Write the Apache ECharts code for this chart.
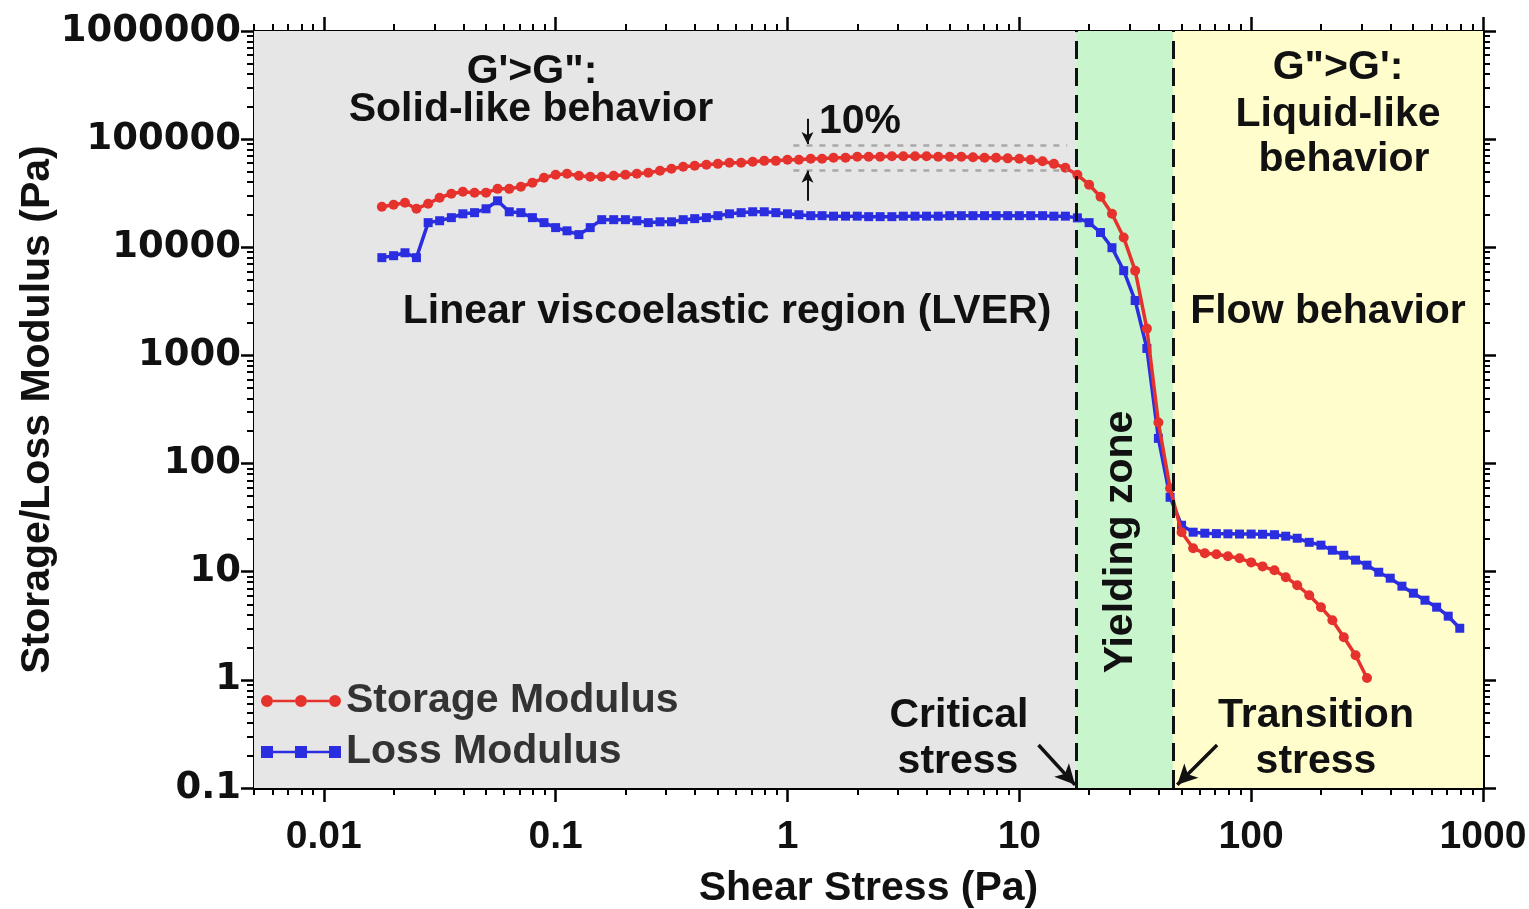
<!DOCTYPE html>
<html>
<head>
<meta charset="utf-8">
<script src="https://cdn.jsdelivr.net/npm/echarts@6/dist/echarts.min.js"></script>
<style>
  html, body { margin: 0; padding: 0; background: #fff; }
  #chart { width: 1529px; height: 909px; }
</style>
</head>
<body>
<div id="chart"></div>
<script>
// Shear stress steps of the amplitude sweep (Pa)
const STRESS = [
  0.0178, 0.0200, 0.0224, 0.0251, 0.0282, 0.0316, 0.0355, 0.0398, 0.0447, 0.0501,
  0.0562, 0.0631, 0.0708, 0.0794, 0.0891, 0.100, 0.112, 0.126, 0.141, 0.158,
  0.178, 0.200, 0.224, 0.251, 0.282, 0.316, 0.355, 0.398, 0.447, 0.501,
  0.562, 0.631, 0.708, 0.794, 0.891, 1.00, 1.12, 1.26, 1.41, 1.58,
  1.78, 2.00, 2.24, 2.51, 2.82, 3.16, 3.55, 3.98, 4.47, 5.01,
  5.62, 6.31, 7.08, 7.94, 8.91, 10.0, 11.2, 12.6, 14.1, 15.8,
  17.8, 20.0, 22.4, 25.1, 28.2, 31.6, 35.5, 39.8, 44.7, 50.1,
  56.2, 63.1, 70.8, 79.4, 89.1, 100, 112, 126, 141, 158,
  178, 200, 224, 251, 282, 316, 355, 398, 447, 501,
  562, 631, 708, 794
];

// Storage modulus G' (Pa)
const STORAGE = [
  23700, 24700, 25800, 22700, 25300, 28700, 31300, 32600, 31900, 32000,
  34700, 34700, 36300, 39500, 43900, 46800, 47800, 45800, 44900, 44900,
  45800, 46800, 47800, 48900, 51000, 53200, 55500, 56700, 57900, 59100,
  60400, 60400, 61700, 63000, 63000, 64400, 64400, 65800, 65800, 67200,
  67200, 68700, 68700, 68700, 69400, 69400, 69400, 69400, 68700, 68700,
  68700, 68000, 67200, 67200, 66400, 65800, 64400, 62400, 59100, 54300,
  46800, 37900, 29300, 20400, 12300, 6080, 1770, 240, 59, 23.2,
  16.5, 14.8, 14.5, 13.9, 13.3, 12.2, 11.2, 10.3, 8.9, 7.5,
  6.06, 4.70, 3.56, 2.48, 1.69, 1.04
];

// Loss modulus G'' (Pa)
const LOSS = [
  8020, 8360, 8900, 8020, 16900, 17600, 18800, 20400, 20900, 22700,
  26900, 21300, 20900, 18800, 16900, 15200, 14200, 13100, 15200, 18000,
  18000, 18000, 17600, 16900, 17200, 17200, 18000, 18400, 18800, 19600,
  20400, 20900, 21300, 21300, 20900, 20400, 20000, 19600, 19600, 19400,
  19400, 19400, 19200, 19200, 19200, 19400, 19400, 19400, 19400, 19600,
  19600, 19600, 19600, 19600, 19600, 19600, 19600, 19600, 19400, 19400,
  18700, 16900, 13700, 9910, 6080, 3220, 1160, 171, 48.8, 26.9,
  23.2, 22.7, 22.5, 22.4, 22.3, 22.3, 22.2, 22.0, 21.3, 20.4,
  18.7, 17.6, 15.8, 14.2, 12.8, 11.5, 9.89, 8.71, 7.35, 6.33,
  5.45, 4.70, 3.88, 3.0
];

// Region boundaries on the stress axis (Pa)
const CRITICAL_STRESS = 17.6;
const TRANSITION_STRESS = 46;

// 10 % band drawn around the G' plateau
const BAND_X = [1.06, 16.1];
const BAND_Y = [88000, 52000];

// Axis ranges and ticks
const X_RANGE = [0.005, 1000];
const Y_RANGE = [0.1, 1000000];
const X_MAJOR = [0.01, 0.1, 1, 10, 100, 1000];
const X_MAJOR_LABELS = ['0.01', '0.1', '1', '10', '100', '1000'];
const X_MINOR = [
  0.005, 0.006, 0.007, 0.008, 0.009,
  0.02, 0.03, 0.04, 0.05, 0.06, 0.07, 0.08, 0.09,
  0.2, 0.3, 0.4, 0.5, 0.6, 0.7, 0.8, 0.9,
  2, 3, 4, 5, 6, 7, 8, 9,
  20, 30, 40, 50, 60, 70, 80, 90,
  200, 300, 400, 500, 600, 700, 800, 900
];
const Y_MAJOR = [0.1, 1, 10, 100, 1000, 10000, 100000, 1000000];
const Y_MAJOR_LABELS = ['0.1', '1', '10', '100', '1000', '10000', '100000', '1000000'];
const Y_MINOR = [
  0.2, 0.3, 0.4, 0.5, 0.6, 0.7, 0.8, 0.9,
  2, 3, 4, 5, 6, 7, 8, 9,
  20, 30, 40, 50, 60, 70, 80, 90,
  200, 300, 400, 500, 600, 700, 800, 900,
  2000, 3000, 4000, 5000, 6000, 7000, 8000, 9000,
  20000, 30000, 40000, 50000, 60000, 70000, 80000, 90000,
  200000, 300000, 400000, 500000, 600000, 700000, 800000, 900000
];

const RED = '#e6322d';
const BLUE = '#2a2ee0';
const FONT = '"Liberation Sans", Arial, sans-serif';
const WIDE_FONT = '"DejaVu Sans", Verdana, sans-serif';

function labelFor(ticks, labels) {
  return function (v) {
    const i = ticks.findIndex(t => Math.abs(Math.log10(v / t)) < 1e-6);
    return i >= 0 ? labels[i] : '';
  };
}

function xAxisDef(position, minor) {
  return {
    type: 'log', logBase: 10, min: X_RANGE[0], max: X_RANGE[1], position: position,
    gridIndex: 0,
    axisLine: { show: !minor, onZero: false, lineStyle: { color: '#000', width: 3 } },
    axisTick: {
      show: true, inside: false, length: minor ? 7 : 14,
      customValues: minor ? X_MINOR : X_MAJOR,
      lineStyle: { color: '#000', width: minor ? 2 : 2.5 }
    },
    axisLabel: (position === 'bottom' && !minor) ? {
      show: true, customValues: X_MAJOR, formatter: labelFor(X_MAJOR, X_MAJOR_LABELS),
      fontSize: 39, fontWeight: 'bold', fontFamily: FONT, color: '#111', margin: 30
    } : { show: false },
    splitLine: { show: false },
    minorTick: { show: false },
    name: (position === 'bottom' && !minor) ? 'Shear Stress (Pa)' : '',
    nameLocation: 'middle', nameGap: 80, nameMoveOverlap: false,
    nameTextStyle: { fontSize: 41, fontWeight: 'bold', fontFamily: FONT, color: '#111' }
  };
}

function yAxisDef(position, minor) {
  return {
    type: 'log', logBase: 10, min: Y_RANGE[0], max: Y_RANGE[1], position: position,
    gridIndex: 0,
    axisLine: { show: !minor, onZero: false, lineStyle: { color: '#000', width: 3 } },
    axisTick: {
      show: true, inside: false, length: minor ? 7 : 13,
      customValues: minor ? Y_MINOR : Y_MAJOR,
      lineStyle: { color: '#000', width: minor ? 2 : 2.5 }
    },
    axisLabel: (position === 'left' && !minor) ? {
      show: true, customValues: Y_MAJOR, formatter: labelFor(Y_MAJOR, Y_MAJOR_LABELS),
      fontSize: 37, fontWeight: 'bold', fontFamily: WIDE_FONT, color: '#111', margin: 13
    } : { show: false },
    splitLine: { show: false },
    minorTick: { show: false },
    name: (position === 'left' && !minor) ? 'Storage/Loss Modulus (Pa)' : '',
    nameLocation: 'middle', nameGap: 196, nameRotate: 90, nameMoveOverlap: false,
    nameTextStyle: { fontSize: 41, fontWeight: 'bold', fontFamily: FONT, color: '#111' }
  };
}

const storageData = STORAGE.map((g, i) => [STRESS[i], g]);
const lossData = LOSS.map((g, i) => [STRESS[i], g]);

const CIRCLE_ICON = 'path://M12 4.8h22v2.4h-22z M46 4.8h22v2.4h-22z ' +
  'M0 6a6 6 0 1 0 12 0a6 6 0 1 0 -12 0z M34 6a6 6 0 1 0 12 0a6 6 0 1 0 -12 0z ' +
  'M68 6a6 6 0 1 0 12 0a6 6 0 1 0 -12 0z';
const SQUARE_ICON = 'path://M0 0h12v12h-12z M34 0h12v12h-12z M68 0h12v12h-12z ' +
  'M12 4.8h22v2.4h-22z M46 4.8h22v2.4h-22z';

function txt(text, x, y, extra) {
  return Object.assign({
    type: 'text', x: x, y: y, z: 100,
    style: {
      text: text, fill: '#111', fontSize: 41, fontWeight: 'bold', fontFamily: FONT,
      align: 'center', verticalAlign: 'middle', textAlign: 'center', textVerticalAlign: 'middle'
    }
  }, extra || {});
}

const chart = echarts.init(document.getElementById('chart'), null, { renderer: 'canvas' });

chart.setOption({
  animation: false,
  backgroundColor: '#ffffff',
  grid: { left: 254, right: 46, top: 31, bottom: 121, containLabel: false, outerBoundsMode: 'none' },
  legend: {
    orient: 'vertical', left: 256, top: 674, itemWidth: 80, itemHeight: 12, itemGap: 7,
    selectedMode: false,
    textStyle: { fontSize: 41, fontWeight: 'bold', fontFamily: FONT, color: '#333', lineHeight: 44 },
    data: [
      { name: 'Storage Modulus', icon: CIRCLE_ICON },
      { name: 'Loss Modulus', icon: SQUARE_ICON }
    ]
  },
  xAxis: [xAxisDef('bottom', false), xAxisDef('top', false), xAxisDef('bottom', true), xAxisDef('top', true)],
  yAxis: [yAxisDef('left', false), yAxisDef('right', false), yAxisDef('left', true), yAxisDef('right', true)],
  series: [
    {
      name: 'Storage Modulus', type: 'line', xAxisIndex: 0, yAxisIndex: 0, z: 4,
      data: storageData, symbol: 'circle', symbolSize: 10, showSymbol: true,
      lineStyle: { color: RED, width: 3.5 }, itemStyle: { color: RED },
      emphasis: { disabled: true },
      markArea: {
        silent: true,
        data: [
          [{ xAxis: X_RANGE[0], itemStyle: { color: '#e6e6e6' } }, { xAxis: CRITICAL_STRESS }],
          [{ xAxis: CRITICAL_STRESS, itemStyle: { color: '#c8f5cc' } }, { xAxis: TRANSITION_STRESS }],
          [{ xAxis: TRANSITION_STRESS, itemStyle: { color: '#fffdcc' } }, { xAxis: X_RANGE[1] }]
        ]
      },
      markLine: {
        silent: true, symbol: ['none', 'none'], label: { show: false },
        emphasis: { disabled: true },
        data: [
          { xAxis: CRITICAL_STRESS, lineStyle: { color: '#111', width: 3, type: [18, 9] } },
          { xAxis: TRANSITION_STRESS, lineStyle: { color: '#111', width: 3, type: [18, 9] } },
          [{ coord: [BAND_X[0], BAND_Y[0]], lineStyle: { color: '#a8a8a8', width: 2.5, type: [6, 7] } },
           { coord: [BAND_X[1], BAND_Y[0]] }],
          [{ coord: [BAND_X[0], BAND_Y[1]], lineStyle: { color: '#a8a8a8', width: 2.5, type: [6, 7] } },
           { coord: [BAND_X[1], BAND_Y[1]] }],
          [{ coord: [1.22, 154000], lineStyle: { color: '#111', width: 2, type: 'solid' } },
           { coord: [1.22, 90000], symbol: 'arrow', symbolSize: [9, 12] }],
          [{ coord: [1.22, 26900], lineStyle: { color: '#111', width: 2, type: 'solid' } },
           { coord: [1.22, 51000], symbol: 'arrow', symbolSize: [9, 12] }],
          [{ coord: [12.1, 0.25], lineStyle: { color: '#111', width: 3.5, type: 'solid' } },
           { coord: [17.4, 0.107], symbol: 'arrow', symbolSize: [15, 20] }],
          [{ coord: [71.3, 0.25], lineStyle: { color: '#111', width: 3.5, type: 'solid' } },
           { coord: [48.0, 0.107], symbol: 'arrow', symbolSize: [15, 20] }]
        ]
      }
    },
    {
      name: 'Loss Modulus', type: 'line', xAxisIndex: 0, yAxisIndex: 0, z: 3,
      data: lossData, symbol: 'rect', symbolSize: 9, showSymbol: true,
      lineStyle: { color: BLUE, width: 3.5 }, itemStyle: { color: BLUE },
      emphasis: { disabled: true }
    }
  ],
  graphic: [
    txt('G\'>G":', 532, 72),
    txt('Solid-like behavior', 531, 110),
    txt('10%', 860, 122),
    txt('Linear viscoelastic region (LVER)', 727, 312),
    txt('G">G\':', 1338, 68),
    txt('Liquid-like', 1338, 115),
    txt('behavior', 1344, 160),
    txt('Flow behavior', 1328, 312),
    txt('Yielding zone', 1121, 542, { rotation: Math.PI / 2 }),
    txt('Critical', 959, 716),
    txt('stress', 958, 762),
    txt('Transition', 1316, 716),
    txt('stress', 1316, 762)
  ]
});
</script>
</body>
</html>
